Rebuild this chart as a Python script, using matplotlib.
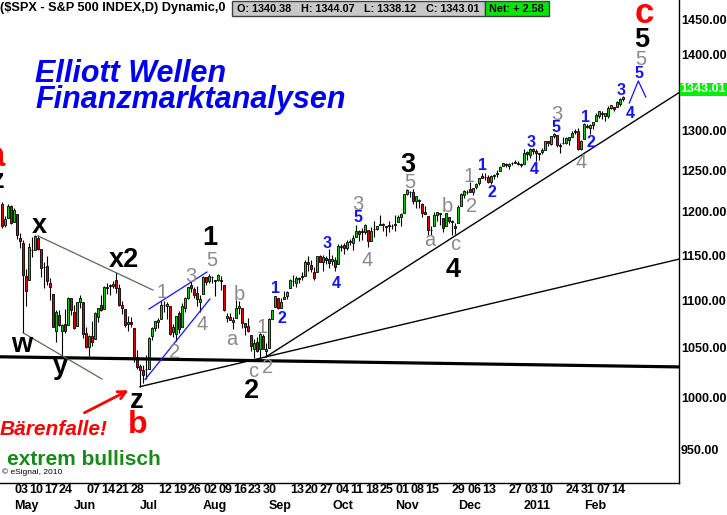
import matplotlib
matplotlib.use("Agg")
import numpy as np
import pandas as pd
import matplotlib.pyplot as plt
from matplotlib import font_manager, ticker
from matplotlib.patches import Rectangle

# S&P 500 daily bars, 27 Apr 2010 .. 18 Feb 2011
first_day = "2010-04-27"
last_day = "2011-02-18"
market_holidays = ["2010-05-31", "2010-07-05", "2010-09-06",
                   "2010-11-25", "2010-12-24", "2011-01-17"]

opens = [
    1209.9, 1184.6, 1193.3, 1206.8,
    1188.6, 1197.5, 1169.2, 1164.4, 1127.0, 1122.3, 1156.4, 1155.4, 1170.0, 1157.2,
    1136.5, 1138.0, 1119.6, 1107.3, 1067.3, 1084.8, 1067.4, 1075.5, 1074.3, 1102.6,
    1087.3, 1073.0, 1098.8, 1098.4, 1065.8, 1050.8, 1062.8, 1058.8, 1082.7, 1095.0, 1091.2,
    1114.0, 1116.0, 1116.2, 1122.8, 1113.9, 1095.6, 1090.9, 1075.1, 1077.5, 1071.1, 1040.6,
    1031.1, 1027.7, 1028.1, 1028.5, 1062.9, 1070.5, 1077.2, 1080.7, 1095.6, 1094.5, 1093.9,
    1066.9, 1064.5, 1086.7, 1072.1, 1092.2, 1102.9, 1117.4, 1112.8, 1108.1, 1098.4,
    1107.5, 1125.3, 1121.1, 1125.8, 1122.1, 1122.8, 1122.9, 1116.9, 1081.5, 1082.2, 1077.5,
    1081.2, 1092.1, 1092.4, 1075.6, 1073.4, 1063.2, 1049.0, 1056.3, 1049.3, 1062.9, 1046.9,
    1049.7, 1080.7, 1093.6, 1102.6, 1092.4, 1101.2, 1104.6, 1113.4, 1121.2, 1119.4, 1123.9,
    1126.4, 1126.6, 1142.8, 1139.5, 1131.1, 1131.7, 1148.6, 1142.3, 1146.8, 1146.0,
    1143.5, 1145.0, 1140.7, 1159.8, 1161.6, 1158.4, 1165.3, 1164.3, 1171.3, 1177.8, 1177.5,
    1176.8, 1178.6, 1166.7, 1179.6, 1180.5, 1184.7, 1184.9, 1183.8, 1184.5, 1183.9,
    1185.7, 1187.9, 1193.8, 1198.3, 1221.2, 1223.2, 1223.6, 1213.1, 1213.0, 1209.1, 1200.4,
    1194.8, 1178.3, 1183.8, 1196.1, 1198.1, 1192.5, 1183.7, 1194.2, 1189.1, 1183.0,
    1186.6, 1206.8, 1219.9, 1223.9, 1227.3, 1223.2, 1230.1, 1233.9, 1242.5, 1241.8, 1241.6,
    1236.3, 1243.6, 1245.8, 1249.4, 1254.9, 1257.5, 1254.7, 1259.1, 1258.8, 1259.4, 1256.8,
    1257.6, 1273.0, 1268.8, 1276.3, 1274.4, 1270.8, 1272.6, 1275.7, 1285.8, 1282.9,
    1293.2, 1294.5, 1280.9, 1283.6, 1283.3, 1288.2, 1292.0, 1297.5, 1299.6, 1276.5,
    1289.1, 1305.9, 1302.8, 1307.0, 1311.9, 1318.8, 1322.5, 1318.1, 1318.7, 1328.7,
    1330.4, 1329.5, 1334.4, 1340.38]
highs = [
    1211.4, 1195.0, 1209.4, 1208.0,
    1205.1, 1197.5, 1175.9, 1167.6, 1135.1, 1163.9, 1170.5, 1172.9, 1173.6, 1157.2,
    1141.9, 1148.7, 1124.3, 1107.3, 1090.2, 1089.9, 1074.8, 1090.8, 1103.5, 1102.6,
    1094.8, 1098.6, 1105.7, 1098.4, 1071.4, 1063.2, 1077.7, 1087.9, 1092.3, 1105.9, 1115.6,
    1118.7, 1117.7, 1121.0, 1131.2, 1118.5, 1099.6, 1090.9, 1083.6, 1082.6, 1071.1, 1048.1,
    1033.6, 1032.9, 1042.5, 1060.9, 1071.3, 1078.2, 1080.8, 1099.5, 1099.1, 1098.7, 1093.9,
    1074.7, 1083.9, 1088.9, 1097.5, 1103.7, 1115.2, 1121.0, 1114.7, 1115.9, 1106.4,
    1127.3, 1125.4, 1128.8, 1126.6, 1122.1, 1129.2, 1127.2, 1116.9, 1086.7, 1086.3, 1082.6,
    1100.1, 1099.8, 1092.4, 1075.6, 1081.6, 1063.2, 1059.4, 1061.5, 1065.2, 1064.4, 1055.1,
    1081.3, 1090.1, 1105.1, 1102.6, 1103.3, 1110.3, 1110.9, 1123.9, 1127.4, 1126.5, 1125.4,
    1131.5, 1144.9, 1148.6, 1144.4, 1136.8, 1148.9, 1149.9, 1150.0, 1148.6, 1157.2,
    1150.3, 1148.2, 1162.8, 1162.3, 1163.9, 1167.7, 1168.7, 1172.6, 1184.4, 1178.9, 1181.2,
    1185.5, 1178.6, 1182.9, 1189.4, 1183.9, 1196.1, 1187.1, 1183.8, 1189.5, 1185.5,
    1195.8, 1195.9, 1198.3, 1221.3, 1227.1, 1224.6, 1226.8, 1218.8, 1215.5, 1210.5, 1207.4,
    1194.8, 1183.6, 1200.3, 1200.0, 1198.9, 1192.5, 1198.6, 1194.2, 1190.3, 1187.4,
    1207.6, 1221.9, 1225.6, 1225.8, 1235.1, 1228.9, 1234.7, 1240.4, 1246.7, 1246.6, 1244.3,
    1243.8, 1245.8, 1250.2, 1255.8, 1259.4, 1258.6, 1258.4, 1259.9, 1262.6, 1261.1, 1259.3,
    1276.2, 1274.1, 1277.6, 1278.2, 1276.8, 1271.5, 1277.8, 1286.9, 1286.7, 1293.2,
    1296.1, 1294.6, 1283.4, 1291.2, 1291.9, 1291.3, 1299.7, 1301.6, 1302.7, 1287.2,
    1308.9, 1307.6, 1308.6, 1311.0, 1322.9, 1324.9, 1324.5, 1322.0, 1330.8, 1333.0,
    1330.4, 1337.6, 1341.5, 1344.07]
lows = [
    1181.6, 1181.8, 1193.3, 1186.3,
    1188.6, 1168.1, 1158.2, 1065.8, 1094.2, 1122.3, 1147.7, 1155.4, 1156.1, 1126.1,
    1114.0, 1117.2, 1100.7, 1071.6, 1055.9, 1072.7, 1040.8, 1065.6, 1074.3, 1084.8,
    1069.9, 1072.5, 1091.8, 1060.5, 1049.9, 1042.2, 1052.3, 1058.8, 1077.1, 1089.0, 1091.2,
    1107.1, 1105.9, 1113.9, 1108.2, 1094.2, 1085.3, 1071.6, 1067.9, 1071.5, 1035.2, 1028.3,
    1010.9, 1015.0, 1018.4, 1028.5, 1058.2, 1068.1, 1070.4, 1080.7, 1087.7, 1080.5, 1063.3,
    1061.1, 1056.9, 1065.3, 1072.1, 1087.9, 1101.8, 1109.8, 1103.1, 1094.2, 1088.0,
    1107.5, 1116.8, 1119.5, 1118.6, 1105.0, 1120.9, 1111.0, 1088.6, 1076.7, 1079.0, 1069.6,
    1081.2, 1085.8, 1070.7, 1063.9, 1067.1, 1046.7, 1039.8, 1045.4, 1039.7, 1048.8, 1040.9,
    1049.7, 1080.4, 1093.6, 1091.2, 1092.4, 1101.2, 1101.7, 1113.4, 1115.6, 1114.6, 1118.9,
    1122.4, 1126.6, 1131.9, 1131.6, 1122.8, 1131.7, 1142.0, 1132.1, 1140.3, 1136.1,
    1139.4, 1131.9, 1140.7, 1154.9, 1151.4, 1155.6, 1162.0, 1155.7, 1171.3, 1166.7, 1167.1,
    1174.6, 1159.7, 1166.7, 1171.2, 1179.0, 1184.7, 1177.7, 1171.7, 1177.1, 1179.7,
    1177.7, 1187.9, 1183.6, 1198.3, 1220.3, 1217.2, 1208.9, 1204.3, 1204.5, 1194.1, 1197.2,
    1173.0, 1173.0, 1183.8, 1189.4, 1184.6, 1176.9, 1183.7, 1186.9, 1173.6, 1174.1,
    1186.6, 1206.8, 1216.8, 1220.7, 1223.3, 1219.5, 1226.9, 1232.6, 1240.3, 1238.2, 1234.0,
    1232.9, 1239.9, 1241.5, 1249.4, 1254.9, 1254.1, 1251.5, 1256.2, 1258.8, 1256.3, 1254.2,
    1257.6, 1262.7, 1265.4, 1270.4, 1261.7, 1262.2, 1269.6, 1275.7, 1280.5, 1281.1,
    1290.2, 1278.9, 1271.3, 1282.1, 1282.5, 1281.1, 1292.0, 1295.0, 1275.1, 1274.7,
    1289.1, 1302.6, 1294.8, 1301.7, 1311.9, 1316.0, 1314.9, 1311.7, 1316.1, 1326.9,
    1324.6, 1329.5, 1331.9, 1338.12]
closes = [
    1183.7, 1191.4, 1206.8, 1186.7,
    1202.3, 1173.6, 1165.9, 1128.2, 1110.9, 1159.7, 1155.8, 1171.7, 1157.4, 1135.7,
    1136.9, 1120.8, 1115.1, 1071.6, 1087.7, 1073.7, 1074.0, 1068.0, 1103.1, 1089.4,
    1070.7, 1098.4, 1102.8, 1064.9, 1050.5, 1062.0, 1055.7, 1086.8, 1091.6, 1089.6, 1115.2,
    1114.6, 1116.0, 1117.5, 1113.2, 1095.3, 1092.0, 1073.7, 1076.8, 1074.6, 1041.2, 1030.7,
    1027.4, 1022.6, 1028.1, 1060.3, 1070.3, 1078.0, 1078.8, 1095.3, 1095.2, 1096.5, 1064.9,
    1071.3, 1083.5, 1069.6, 1093.7, 1102.7, 1115.0, 1113.8, 1106.1, 1101.5, 1101.6,
    1125.9, 1120.5, 1127.2, 1125.8, 1121.6, 1127.8, 1121.1, 1089.5, 1083.6, 1079.3, 1079.4,
    1092.5, 1094.2, 1075.6, 1071.7, 1067.4, 1051.9, 1055.3, 1047.2, 1064.6, 1048.9, 1049.3,
    1080.3, 1090.1, 1104.5, 1091.8, 1098.9, 1104.2, 1109.6, 1121.9, 1121.1, 1125.1, 1124.7,
    1125.6, 1142.7, 1139.8, 1134.3, 1124.8, 1148.7, 1142.2, 1147.7, 1144.7, 1141.2,
    1146.2, 1137.0, 1160.8, 1160.0, 1158.1, 1165.2, 1165.3, 1169.8, 1178.1, 1173.8, 1176.2,
    1184.7, 1165.9, 1178.2, 1180.3, 1183.1, 1185.6, 1185.6, 1182.5, 1183.8, 1183.3,
    1184.4, 1193.6, 1198.0, 1221.1, 1225.9, 1223.3, 1213.4, 1218.7, 1213.5, 1199.2, 1197.8,
    1178.3, 1178.6, 1196.7, 1199.7, 1197.8, 1180.7, 1198.4, 1189.4, 1187.8, 1180.6,
    1206.1, 1221.5, 1224.7, 1223.1, 1223.8, 1228.3, 1233.0, 1240.4, 1240.5, 1241.6, 1235.2,
    1242.9, 1243.9, 1247.1, 1254.6, 1258.8, 1256.8, 1257.5, 1258.5, 1259.8, 1257.9, 1257.6,
    1271.9, 1270.2, 1276.6, 1273.9, 1271.5, 1269.8, 1274.5, 1286.0, 1283.8, 1293.2,
    1295.0, 1281.9, 1280.3, 1283.4, 1290.8, 1291.2, 1296.6, 1299.5, 1276.3, 1286.1,
    1307.6, 1304.0, 1307.1, 1310.9, 1319.1, 1324.6, 1320.9, 1321.9, 1329.2, 1332.3,
    1328.0, 1336.3, 1340.43, 1343.01]

day_tick_dates = ["2010-05-03", "2010-05-10", "2010-05-17", "2010-05-24", "2010-06-07",
                  "2010-06-14", "2010-06-21", "2010-06-28", "2010-07-12", "2010-07-19",
                  "2010-07-26", "2010-08-02", "2010-08-09", "2010-08-16", "2010-08-23",
                  "2010-08-30", "2010-09-13", "2010-09-20", "2010-09-27", "2010-10-04",
                  "2010-10-11", "2010-10-18", "2010-10-25", "2010-11-01", "2010-11-08",
                  "2010-11-15", "2010-11-29", "2010-12-06", "2010-12-13", "2010-12-27",
                  "2011-01-03", "2011-01-10", "2011-01-24", "2011-01-31", "2011-02-07",
                  "2011-02-14"]
month_tick_dates = ["2010-05-03", "2010-06-01", "2010-07-01", "2010-08-02", "2010-09-01",
                    "2010-10-01", "2010-11-01", "2010-12-01", "2011-01-03", "2011-02-01"]
month_tick_labels = ["May", "Jun", "Jul", "Aug", "Sep", "Oct", "Nov", "Dec", "2011", "Feb"]
price_ticks = [950, 1000, 1050, 1100, 1150, 1200, 1250, 1300, 1350, 1400, 1450]

# trend lines through pivots (date, price)
support_dates = ["2010-05-25", "2011-02-18"]
support_prices = [1040.0, 1031.5]
lower_trend_dates = ["2010-07-01", "2010-08-31"]
lower_trend_prices = [1010.9, 1040.9]
upper_trend_dates = ["2010-08-31", "2010-11-30"]
upper_trend_prices = [1040.9, 1172.0]

# hand drawn channel lines (bar number, price)
chan_hi_bars, chan_hi_prices = [12, 50.3], [1172.0, 1111.4]
chan_lo_bars, chan_lo_prices = [7, 33.3], [1065.8, 1018.5]
wedge_hi_bars, wedge_hi_prices = [49, 68.3], [1090.9, 1131.2]
wedge_lo_bars, wedge_lo_prices = [47.7, 69.3], [1018.0, 1101.7]
fifth_bars, fifth_prices = [209.1, 212.1, 214.6], [1335.3, 1364.5, 1343.1]

# wave labels: text, x pixel (centre), baseline pixel
black_text = ["1", "2", "3", "4", "5", "x", "x2", "w", "y", "z", "z"]
black_x = [210, 252, 408, 453, 642, 39, 124, 22, 60, 137, -2]
black_y = [245, 398, 172, 277, 47, 233, 267, 352, 374, 408, 188]
gray_text = ["1", "3", "5", "2", "4", "b", "a", "1", "c", "2", "3", "4", "5", "a",
             "b", "c", "1", "2", "3", "4", "5"]
gray_x = [162, 191, 212, 175, 202, 239, 232, 262, 253, 268, 358, 367, 410, 430,
          447, 455, 469, 472, 557, 581, 641]
gray_y = [298, 282, 266, 358, 330, 300, 345, 333, 377, 373, 210, 266, 188, 246,
          212, 250, 182, 212, 120, 168, 65]
blue_text = ["1", "2", "3", "4", "5", "1", "2", "3", "4", "5", "1", "2", "3", "4", "5"]
blue_x = [276, 282, 327, 336, 358, 483, 492, 531, 534, 556, 585, 591, 621, 630, 639]
blue_y = [293, 323, 248, 288, 222, 170, 197, 147, 174, 132, 122, 147, 95, 118, 78]
red_text = ["a", "b", "c"]
red_x = [-4.5, 138, 644]
red_y = [166, 433, 23]

W, H = 727, 515
names = {f.name for f in font_manager.fontManager.ttflist}
if "Liberation Sans Narrow" in names:
    narrow, nscale = "Liberation Sans Narrow", 1.0
else:
    narrow, nscale = "Liberation Sans", 0.82
plt.rcParams["font.family"] = ["Liberation Sans", "DejaVu Sans"]


def fx(x):
    return x / W


def fy(y):
    return 1 - y / H


days = pd.bdate_range(first_day, last_day)
days = days[~days.isin(pd.to_datetime(market_holidays))]


def bar_of(d):
    return days.get_loc(pd.Timestamp(d))


o = np.array(opens)
h = np.array(highs)
l = np.array(lows)
c = np.array(closes)
x = np.arange(len(c))

fig = plt.figure(figsize=(W / 100, H / 100), dpi=100)
ax = fig.add_axes([0, 32 / H, 679 / W, 483 / H])
ax.set_yscale("log")
ax.set_ylim(919.7, 1477.3)
ax.set_xlim(-2 / 3, 677 / 3)

# candles
up = c >= o
body_lo = np.minimum(o, c)
body_h = np.maximum(np.abs(c - o), 0.4)
ax.vlines(x, l, h, color="black", lw=0.8, zorder=2)
ax.bar(x, body_h, bottom=body_lo, width=0.72,
       color=np.where(up, "#10cc10", "#e00000"), edgecolor="black", linewidth=0.6, zorder=3)


def extend(x0, p0, x1, p1, x_end):
    k = (np.log(p1) - np.log(p0)) / (x1 - x0)
    return [x0, x_end], [p0, np.exp(np.log(p0) + k * (x_end - x0))]


xl, xr = ax.get_xlim()
sb = [bar_of(d) for d in support_dates]
k = (np.log(support_prices[1]) - np.log(support_prices[0])) / (sb[1] - sb[0])
ax.plot([xl, xr], [np.exp(np.log(support_prices[0]) + k * (v - sb[0])) for v in (xl, xr)],
        color="black", lw=2.3, zorder=4)
lb = [bar_of(d) for d in lower_trend_dates]
ax.plot(*extend(lb[0], lower_trend_prices[0], lb[1], lower_trend_prices[1], xr),
        color="black", lw=1.0, zorder=4)
ub = [bar_of(d) for d in upper_trend_dates]
ax.plot(*extend(ub[0], upper_trend_prices[0], ub[1], upper_trend_prices[1], xr),
        color="black", lw=1.0, zorder=4)
ax.plot(chan_hi_bars, chan_hi_prices, color="#5a6a5a", lw=0.9, zorder=4)
ax.plot(chan_lo_bars, chan_lo_prices, color="#5a6a5a", lw=0.9, zorder=4)
ax.plot(wedge_hi_bars, wedge_hi_prices, color="#1010ff", lw=0.9, zorder=4)
ax.plot(wedge_lo_bars, wedge_lo_prices, color="#1010ff", lw=0.9, zorder=4)
ax.plot(fifth_bars, fifth_prices, color="#1010ff", lw=0.9, zorder=4)

# axes frame
for side in ("left", "top"):
    ax.spines[side].set_visible(False)
for side in ("right", "bottom"):
    ax.spines[side].set_linewidth(1.0)

ax.yaxis.tick_right()
ax.set_yticks(price_ticks)
ax.set_yticklabels([f"{p:.2f}" for p in price_ticks])
ax.yaxis.set_minor_locator(ticker.NullLocator())
ax.tick_params(axis="y", which="both", length=0, pad=1.5, labelsize=11 * nscale)

ax.xaxis.remove_overlapping_locs = False
ax.set_xticks([bar_of(d) for d in day_tick_dates])
ax.set_xticklabels([pd.Timestamp(d).strftime("%d") for d in day_tick_dates])
ax.set_xticks([bar_of(d) for d in month_tick_dates], minor=True)
ax.set_xticklabels(month_tick_labels, minor=True)
ax.tick_params(axis="x", which="major", length=0, pad=1.0, labelsize=11 * nscale)
ax.tick_params(axis="x", which="minor", length=0, pad=12.5, labelsize=11 * nscale)
for t in ax.get_xticklabels(which="both") + ax.get_yticklabels():
    t.set_fontfamily(narrow)
    t.set_fontweight("bold")
for t in ax.get_xticklabels(which="both"):
    t.set_horizontalalignment("left")

# header line
fig.text(fx(0), fy(8), "($SPX - S&P 500 INDEX,D) Dynamic,0", family=narrow,
         weight="bold", size=11.2 * nscale, va="center", ha="left")
fig.patches.append(Rectangle((fx(232), fy(15.5)), fx(485) - fx(232), fy(1) - fy(15.5),
                             transform=fig.transFigure, fc="#c8c8c8", ec="#404040", lw=1))
fig.patches.append(Rectangle((fx(485), fy(15.5)), fx(549) - fx(485), fy(1) - fy(15.5),
                             transform=fig.transFigure, fc="#00e600", ec="#404040", lw=1))
quote = [f"O: {o[-1]:.2f}", f"H: {h[-1]:.2f}", f"L: {l[-1]:.2f}", f"C: {c[-1]:.2f}",
         f"Net: + {c[-1] - c[-2]:.2f}"]
for s, qx in zip(quote, [237, 301, 364, 426, 489]):
    fig.text(fx(qx), fy(8.5), s, weight="bold", size=7.8, va="center", ha="left")

# last price tag
fig.patches.append(Rectangle((fx(680), fy(96)), fx(727) - fx(680), fy(83) - fy(96),
                             transform=fig.transFigure, fc="#00ee00", ec="none"))
fig.text(fx(703.5), fy(89.5), f"{c[-1]:.2f}", family=narrow, weight="bold",
         size=11 * nscale, color="white", va="center", ha="center")

# wave labels
for s, px, py in zip(black_text, black_x, black_y):
    fig.text(fx(px), fy(py), s, size=19.5, weight="bold", color="black",
             ha="center", va="baseline")
for s, px, py in zip(gray_text, gray_x, gray_y):
    fig.text(fx(px), fy(py), s, size=14.5, color="#8a8a8a", ha="center", va="baseline")
for s, px, py in zip(blue_text, blue_x, blue_y):
    fig.text(fx(px), fy(py), s, size=11.5, weight="bold", color="#1414f0",
             ha="center", va="baseline")
for s, px, py, sz in zip(red_text, red_x, red_y, [25, 23, 25]):
    fig.text(fx(px), fy(py), s, size=sz, weight="bold", color="#ff0000",
             ha="center", va="baseline")

# headline and comments
fig.text(fx(35), fy(82), "Elliott Wellen", size=22, weight="bold", style="italic",
         color="#0000f0", ha="left", va="baseline")
fig.text(fx(35), fy(108), "Finanzmarktanalysen", size=22, weight="bold", style="italic",
         color="#0000f0", ha="left", va="baseline")
fig.text(fx(0), fy(435), "Bärenfalle!", size=15, weight="bold", style="italic",
         color="#ff0000", ha="left", va="baseline")
fig.text(fx(7), fy(465), "extrem bullisch", size=15, weight="bold",
         color="#168c16", ha="left", va="baseline")
fig.text(fx(2), fy(474), "© eSignal, 2010", size=6, ha="left", va="baseline")
ax.annotate("", xy=(fx(131), fy(389)), xytext=(fx(82), fy(414)),
            xycoords="figure fraction", textcoords="figure fraction",
            arrowprops=dict(arrowstyle="->", color="#ff0000", lw=2, mutation_scale=14))

fig.savefig("out.png", dpi=100, facecolor="white")
